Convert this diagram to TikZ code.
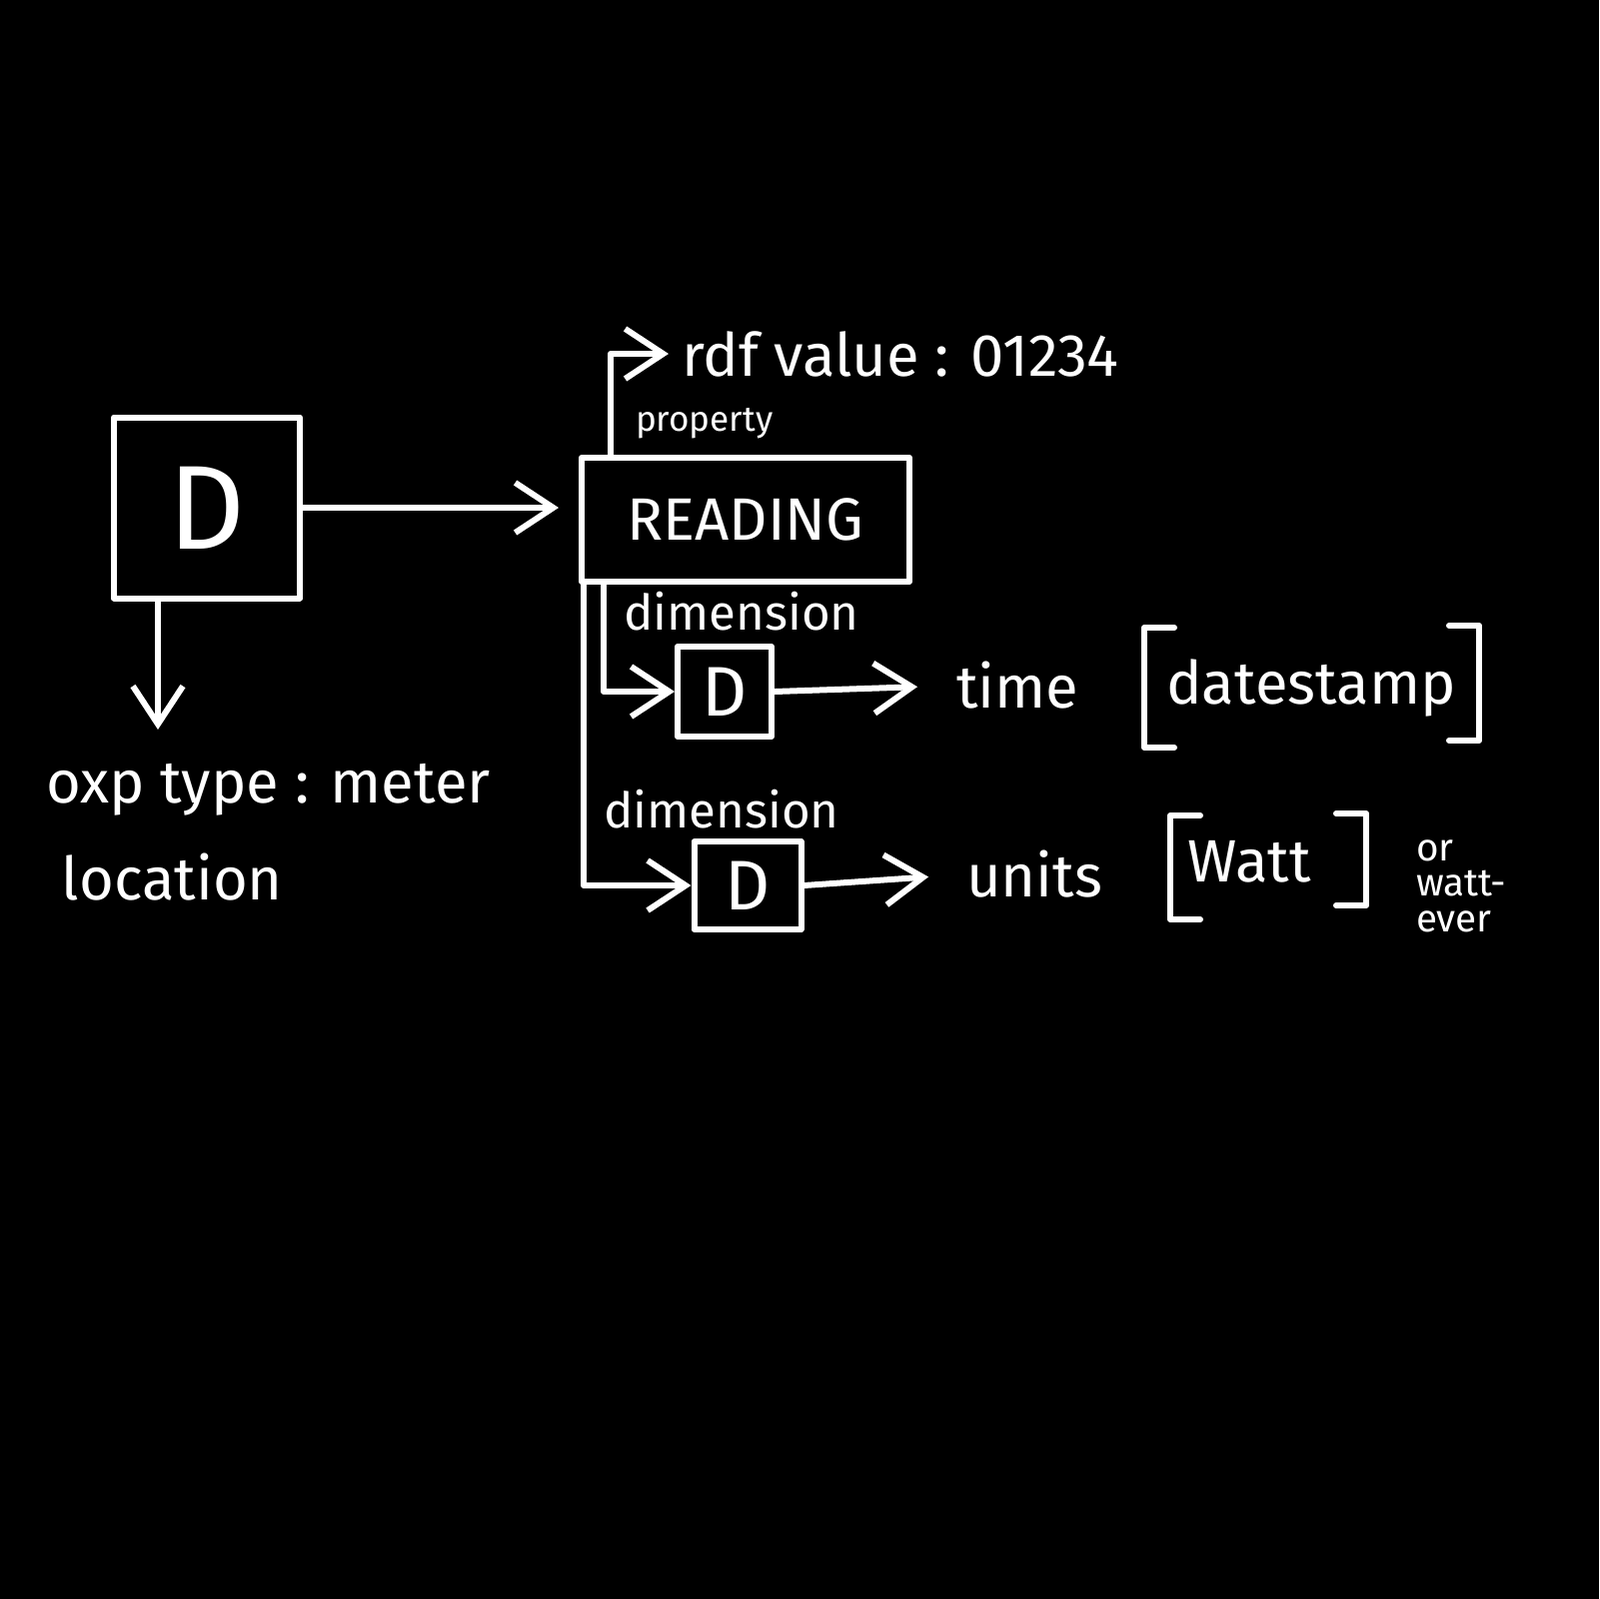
\documentclass[tikz,border=0pt]{standalone}
\usepackage{fontspec}
\setmainfont{Fira Sans}
\usetikzlibrary{arrows.meta,calc}
\begin{document}
\begin{tikzpicture}[x=0.1mm,y=-0.1mm,
  line width=0.6mm, line cap=round, line join=round,
  every node/.style={text=white, inner sep=0pt},
  ink/.style={draw=white},
  box/.style={draw=white, line width=0.6mm},
  conn/.style={draw=white, -{Straight Barb[length=3.8mm,width=5mm]}},
  big/.style={font=\fontsize{17}{17}\selectfont},
  mid/.style={font=\fontsize{14}{14}\selectfont},
  small/.style={font=\fontsize{10}{10}\selectfont}
]
\fill[black] (0,0) rectangle (1600,1600);
\useasboundingbox (0,0) rectangle (1600,1600);

% boxes
\node[box, minimum width=18.6mm, minimum height=18.1mm, font=\fontsize{34}{34}\selectfont] (bigD) at (207,508) {D};
\node[box, minimum width=32.8mm, minimum height=12.4mm, big] (reading) at (746,520) {READING};
\node[box, minimum width=9.4mm, minimum height=9mm, font=\fontsize{20}{20}\selectfont] (d1) at (725,692) {D};
\node[box, minimum width=10.7mm, minimum height=8.8mm, font=\fontsize{20}{20}\selectfont] (d2) at (748,886) {D};

% texts
\node[anchor=west, big] (rdf) at (679,354) {rdf value : 01234};
\node[anchor=west, small] (prop) at (633,424) {property};
\node[mid] (dim1) at (742,612) {dimension};
\node[mid] (dim2) at (722,810) {dimension};
\node[anchor=west, big] (time) at (954,686) {time};
\node[anchor=west, big] (units) at (964,875) {units};
\node[big] (ds) at (1312,688) {datestamp};
\node[big] (watt) at (1250,862) {Watt};
\node[anchor=north west, align=left, font=\fontsize{11}{10}\selectfont] (orw) at (1414,838) {or\\watt-\\ever};
\node[anchor=west, big] (oxp) at (43,790) {oxp type : meter};
\node[anchor=west, big] (loc) at (59,878) {location};
\coordinate (oxptip) at (158,730);

% connectors
\draw[conn, shorten >=2mm] (bigD.east) -- (bigD.east -| reading.west);
\draw[conn] (oxptip |- bigD.south) -- (oxptip);
\draw[conn, shorten >=1mm] ($(reading.north west)+(32,0)$) |- (rdf.west);
\draw[conn] ($(reading.south west)+(5,0)$) |- (d2.west);
\draw[conn] ($(reading.south west)+(25,0)$) |- (d1.west);
\draw[conn, shorten >=3.6mm] (d1.east) -- (time.west);
\draw[conn, shorten >=3.5mm] (d2.east) -- (units.west);

% brackets
\draw[ink] ($(ds.center)+(-137,-60)$) -- ++(-30,0) -- ++(0,120) -- ++(30,0);
\draw[ink] ($(ds.center)+(138,-62)$) -- ++(30,0) -- ++(0,115) -- ++(-30,0);
\draw[ink] ($(watt.center)+(-49,-46)$) -- ++(-30,0) -- ++(0,104) -- ++(30,0);
\draw[ink] ($(watt.center)+(87,-48)$) -- ++(30,0) -- ++(0,92) -- ++(-30,0);
\end{tikzpicture}
\end{document}
